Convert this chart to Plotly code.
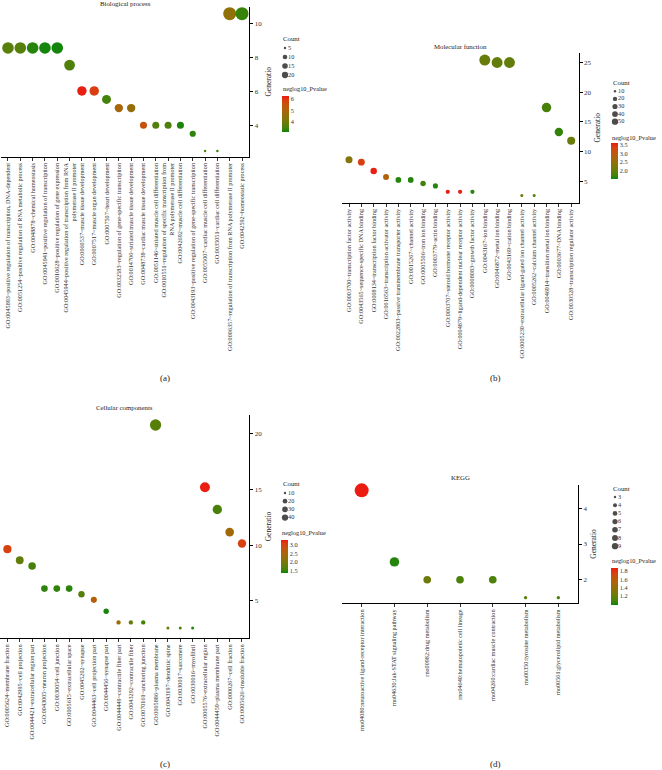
import plotly.graph_objects as go

# ---------------- data ----------------
bp_terms = [
    "GO:0045893~positive regulation of transcription, DNA-dependent",
    "GO:0051254~positive regulation of RNA metabolic process",
    "GO:0048878~chemical homeostasis",
    "GO:0045941~positive regulation of transcription",
    "GO:0010628~positive regulation of gene expression",
    "GO:0045944~positive regulation of transcription from RNA<br>polymerase II promoter",
    "GO:0060537~muscle tissue development",
    "GO:0007517~muscle organ development",
    "GO:0007507~heart development",
    "GO:0032583~regulation of gene-specific transcription",
    "GO:0014706~striated muscle tissue development",
    "GO:0048738~cardiac muscle tissue development",
    "GO:0051146~striated muscle cell differentiation",
    "GO:0010551~regulation of specific transcription from<br>RNA polymerase II promoter",
    "GO:0042692~muscle cell differentiation",
    "GO:0043193~positive regulation of gene-specific transcription",
    "GO:0055007~cardiac muscle cell differentiation",
    "GO:0035051~cardiac cell differentiation",
    "GO:0006357~regulation of transcription from RNA polymerase II promoter",
    "GO:0042592~homeostatic process",
]
bp_ratio = [8.59, 8.59, 8.59, 8.59, 8.59, 7.58, 6.06, 6.06, 5.56, 5.05,
            5.05, 4.04, 4.04, 4.04, 4.04, 3.54, 2.53, 2.53, 10.61, 10.61]
bp_count = [17, 17, 17, 17, 17, 15, 12, 12, 11, 10, 10, 8, 8, 8, 8, 7, 5, 5, 21, 21]
bp_pval = [3.65, 3.65, 3.25, 3.15, 3.15, 3.55, 6.2, 5.9, 3.45, 4.9,
           4.6, 5.5, 3.6, 3.55, 3.2, 3.3, 3.6, 3.35, 4.5, 3.35]

mf_terms = [
    "GO:0003700~transcription factor activity",
    "GO:0043565~sequence-specific DNA binding",
    "GO:0008134~transcription factor binding",
    "GO:0016563~transcription activator activity",
    "GO:0022803~passive transmembrane transporter activity",
    "GO:0015267~channel activity",
    "GO:0005506~iron ion binding",
    "GO:0003779~actin binding",
    "GO:0003707~steroid hormone receptor activity",
    "GO:0004879~ligand-dependent nuclear receptor activity",
    "GO:0008083~growth factor activity",
    "GO:0043167~ion binding",
    "GO:0046872~metal ion binding",
    "GO:0043169~cation binding",
    "GO:0005230~extracellular ligand-gated ion channel activity",
    "GO:0005262~calcium channel activity",
    "GO:0046914~transition metal ion binding",
    "GO:0003677~DNA binding",
    "GO:0030528~transcription regulator activity",
]
mf_ratio = [8.6, 8.2, 6.7, 5.7, 5.2, 5.2, 4.6, 4.2, 3.2, 3.2,
            3.2, 25.4, 25.0, 25.0, 2.6, 2.6, 17.4, 13.3, 11.8]
mf_count = [16, 15, 13, 11, 10, 10, 9, 8, 6, 6, 6, 48, 47, 47, 5, 5, 33, 25, 22]
mf_pval = [2.3, 3.3, 3.55, 2.8, 1.6, 1.6, 1.7, 1.6, 3.58, 3.55,
           1.6, 2.0, 1.95, 1.95, 1.95, 1.85, 1.75, 1.65, 2.0]

cc_terms = [
    "GO:0005624~membrane fraction",
    "GO:0042995~cell projection",
    "GO:0044421~extracellular region part",
    "GO:0043005~neuron projection",
    "GO:0030054~cell junction",
    "GO:0005615~extracellular space",
    "GO:0045202~synapse",
    "GO:0044463~cell projection part",
    "GO:0044456~synapse part",
    "GO:0044449~contractile fiber part",
    "GO:0043292~contractile fiber",
    "GO:0070161~anchoring junction",
    "GO:0005886~plasma membrane",
    "GO:0043197~dendritic spine",
    "GO:0030017~sarcomere",
    "GO:0030016~myofibril",
    "GO:0005576~extracellular region",
    "GO:0044459~plasma membrane part",
    "GO:0000267~cell fraction",
    "GO:0005626~insoluble fraction",
]
cc_ratio = [9.64, 8.64, 8.13, 6.09, 6.09, 6.09, 5.58, 5.08, 4.06, 3.05,
            3.05, 3.05, 20.8, 2.54, 2.54, 2.54, 15.2, 13.2, 11.17, 10.15]
cc_count = [19, 17, 16, 12, 12, 12, 11, 10, 8, 6, 6, 6, 41, 5, 5, 5, 30, 26, 22, 20]
cc_pval = [3.05, 1.8, 1.6, 1.5, 1.5, 1.48, 1.7, 2.65, 1.42, 2.4,
           1.85, 1.55, 1.7, 1.85, 1.6, 1.45, 3.3, 1.6, 2.4, 3.05]

kegg_terms = [
    "rno04080:neuroactive ligand-receptor interaction",
    "rno04630:Jak-STAT signaling pathway",
    "rno00982:drug metabolism",
    "rno04640:hematopoietic cell lineage",
    "rno04260:cardiac muscle contraction",
    "rno00350:tyrosine metabolism",
    "rno00561:glycerolipid metabolism",
]
kegg_ratio = [4.5, 2.5, 2.0, 2.0, 2.0, 1.5, 1.5]
kegg_count = [9, 5, 4, 4, 4, 3, 3]
kegg_pval = [1.86, 1.02, 1.22, 1.1, 1.1, 1.15, 1.08]

bp_count_breaks = [5, 10, 15, 20]
mf_count_breaks = [10, 20, 30, 40, 50]
cc_count_breaks = [10, 20, 30, 40]
kegg_count_breaks = [3, 4, 5, 6, 7, 8, 9]

bp_cbar_ticks = [4, 5, 6]
mf_cbar_ticks = [2.0, 2.5, 3.0, 3.5]
cc_cbar_ticks = [1.5, 2.0, 2.5, 3.0]
kegg_cbar_ticks = [1.2, 1.4, 1.6, 1.8]

# ---------------- styling helpers ----------------
W, H = 662, 770
FONT = "Liberation Serif"


def px(x):
    return x / W


def py(y):
    return 1 - y / H


def _lin(c):
    c = c / 255
    return c / 12.92 if c <= 0.04045 else ((c + 0.055) / 1.055) ** 2.4


def _srgb(c):
    v = 12.92 * c if c <= 0.0031308 else 1.055 * max(c, 0) ** (1 / 2.4) - 0.055
    return max(0, min(255, round(v * 255)))


def hex_to_lab(h):
    r, g, b = (_lin(int(h[i:i + 2], 16)) for i in (1, 3, 5))
    X = (0.4124 * r + 0.3576 * g + 0.1805 * b) / 0.95047
    Y = 0.2126 * r + 0.7152 * g + 0.0722 * b
    Z = (0.0193 * r + 0.1192 * g + 0.9505 * b) / 1.08883
    d = 6 / 29
    f = lambda t: t ** (1 / 3) if t > d ** 3 else t / (3 * d * d) + 4 / 29
    return 116 * f(Y) - 16, 500 * (f(X) - f(Y)), 200 * (f(Y) - f(Z))


def lab_to_hex(L, a, b):
    d = 6 / 29
    fy = (L + 16) / 116
    fx = fy + a / 500
    fz = fy - b / 200
    fi = lambda t: t ** 3 if t > d else 3 * d * d * (t - 4 / 29)
    X, Y, Z = fi(fx) * 0.95047, fi(fy), fi(fz) * 1.08883
    r = 3.2406 * X - 1.5372 * Y - 0.4986 * Z
    g = -0.9689 * X + 1.8758 * Y + 0.0415 * Z
    bb = 0.0557 * X - 0.2040 * Y + 1.0570 * Z
    return "#%02x%02x%02x" % (_srgb(r), _srgb(g), _srgb(bb))


LOW, HIGH = "#0b850b", "#ec1a12"
l1, l2 = hex_to_lab(LOW), hex_to_lab(HIGH)
CS = []
for i in range(11):
    t = i / 10
    CS.append([t, lab_to_hex(*[l1[k] + (l2[k] - l1[k]) * t for k in range(3)])])


def sizes(counts, smin, smax):
    lo, hi = min(counts), max(counts)
    return [smin + (smax - smin) * ((c - lo) / (hi - lo)) ** 0.5 for c in counts]


fig = go.Figure()
annotations = []
layout = dict(
    width=W, height=H, margin=dict(l=0, r=0, t=0, b=0),
    paper_bgcolor="white", plot_bgcolor="white", showlegend=False,
    font=dict(family=FONT, color="#222"),
)

panels = [
    dict(terms=bp_terms, ratio=bp_ratio, count=bp_count, pval=bp_pval,
         breaks=bp_count_breaks, cticks=bp_cbar_ticks, ctickfmt="%g",
         xl=0.6, xr=249.4, yt=7, yb=156.5, yr=[2.2, 11.0], dtick=2,
         smin=2.5, smax=13, cmin=3.1, cmax=6.25,
         title="Biological process", title_y=3.5, cap="(a)", cap_xy=(165, 378),
         lg_x=285, lg_title_y=39, lg_first=48, lg_sp=9,
         cb_x=282, cb_title_y=88.5, cb_top=96, cb_len=36),
    dict(terms=mf_terms, ratio=mf_ratio, count=mf_count, pval=mf_pval,
         breaks=mf_count_breaks, cticks=mf_cbar_ticks, ctickfmt="%.1f",
         xl=341.6, xr=578.6, yt=53, yb=202.5, yr=[1.4, 26.6], dtick=5,
         smin=3, smax=11, cmin=1.5, cmax=3.58,
         title="Molecular function", title_y=47, cap="(b)", cap_xy=(495, 378),
         lg_x=615, lg_title_y=82, lg_first=91.3, lg_sp=7.6,
         cb_x=611, cb_title_y=137, cb_top=143.3, cb_len=36),
    dict(terms=cc_terms, ratio=cc_ratio, count=cc_count, pval=cc_pval,
         breaks=cc_count_breaks, cticks=cc_cbar_ticks, ctickfmt="%.1f",
         xl=0, xr=249.4, yt=415, yb=638, yr=[1.65, 21.7], dtick=5,
         smin=3, smax=11.3, cmin=1.37, cmax=3.31,
         title="Cellular components", title_y=408, cap="(c)", cap_xy=(165, 764),
         lg_x=285, lg_title_y=483, lg_first=493, lg_sp=8.2,
         cb_x=281, cb_title_y=532, cb_top=540, cb_len=33),
    dict(terms=kegg_terms, ratio=kegg_ratio, count=kegg_count, pval=kegg_pval,
         breaks=kegg_count_breaks, cticks=kegg_cbar_ticks, ctickfmt="%.1f",
         xl=342, xr=578, yt=485, yb=603, yr=[1.35, 4.65], dtick=1,
         smin=3.3, smax=14, cmin=0.98, cmax=1.865,
         title="KEGG", title_y=477, cap="(d)", cap_xy=(495, 764),
         lg_x=615, lg_title_y=488, lg_first=497, lg_sp=8.2,
         cb_x=611, cb_title_y=560.7, cb_top=568.3, cb_len=37),
]

for i, p in enumerate(panels):
    k = i + 1
    sfx = "" if k == 1 else str(k)
    n = len(p["terms"])
    fig.add_trace(go.Scatter(
        x=p["terms"], y=p["ratio"], mode="markers", cliponaxis=False,
        xaxis="x" + sfx, yaxis="y" + sfx, hoverinfo="skip",
        marker=dict(
            size=sizes(p["count"], p["smin"], p["smax"]), color=p["pval"],
            colorscale=CS, cmin=p["cmin"], cmax=p["cmax"], opacity=1,
            line=dict(width=0),
            colorbar=dict(
                x=px(p["cb_x"]), xanchor="left", xpad=0,
                y=py(p["cb_top"]), yanchor="top", ypad=0,
                len=p["cb_len"], lenmode="pixels", thickness=7,
                thicknessmode="pixels", outlinewidth=0, ticks="",
                tickvals=p["cticks"],
                ticktext=[p["ctickfmt"] % v for v in p["cticks"]],
                tickfont=dict(size=6.3, family=FONT, color="#333"),
            ),
        ),
    ))
    layout["xaxis" + sfx] = dict(
        domain=[px(p["xl"]), px(p["xr"])], type="category",
        range=[-0.6, n - 0.4], anchor="y" + sfx, automargin=False,
        showline=True, linecolor="black", linewidth=1, mirror=False,
        ticks="outside", ticklen=3, tickcolor="black", tickwidth=0.8,
        tickangle=-90, tickmode="array", tickvals=p["terms"], ticktext=p["terms"],
        tickfont=dict(size=6.2, family=FONT, color="#333"),
        showgrid=False, zeroline=False, fixedrange=True,
    )
    layout["yaxis" + sfx] = dict(
        domain=[py(p["yb"]), py(p["yt"])], range=p["yr"], side="right",
        anchor="x" + sfx, automargin=False, showline=True, linecolor="black",
        linewidth=1, ticks="outside", ticklen=3, tickcolor="black",
        dtick=p["dtick"], tickfont=dict(size=7, family=FONT, color="#333"),
        title=dict(text="Generatio", font=dict(size=7.5, family=FONT, color="#222"),
                   standoff=4),
        showgrid=False, zeroline=False, fixedrange=True,
    )

    # size legend ("Count") drawn on its own small axis
    lk = str(k + 4)
    nb = len(p["breaks"])
    layout["xaxis" + lk] = dict(
        domain=[px(p["lg_x"] - 4), px(p["lg_x"] + 46)], range=[-0.08, 0.92],
        visible=False, anchor="y" + lk, fixedrange=True,
    )
    layout["yaxis" + lk] = dict(
        domain=[py(p["lg_first"] + p["lg_sp"] * (nb - 0.5)),
                py(p["lg_first"] - p["lg_sp"] / 2)],
        range=[nb - 0.5, -0.5], visible=False, anchor="x" + lk, fixedrange=True,
    )
    fig.add_trace(go.Scatter(
        x=[0] * nb, y=list(range(nb)), mode="markers", cliponaxis=False,
        xaxis="x" + lk, yaxis="y" + lk, hoverinfo="skip",
        marker=dict(size=sizes(p["breaks"], 2.4, 6.3), color="black",
                    line=dict(width=0)),
    ))
    fig.add_trace(go.Scatter(
        x=[0.06] * nb, y=list(range(nb)), mode="text", cliponaxis=False,
        xaxis="x" + lk, yaxis="y" + lk, hoverinfo="skip",
        text=[str(b) for b in p["breaks"]], textposition="middle right",
        textfont=dict(size=6.3, family=FONT, color="#333"),
    ))

    annotations.append(dict(
        text="Count", x=px(p["lg_x"] - 4), y=py(p["lg_title_y"]), xref="paper",
        yref="paper", xanchor="left", yanchor="middle", showarrow=False,
        font=dict(size=6.8, family=FONT, color="#222")))
    annotations.append(dict(
        text="neglog10_Pvalue", x=px(p["cb_x"] - 1), y=py(p["cb_title_y"]),
        xref="paper", yref="paper", xanchor="left", yanchor="middle",
        showarrow=False, font=dict(size=6.3, family=FONT, color="#222")))
    annotations.append(dict(
        text=p["title"], x=px((p["xl"] + p["xr"]) / 2), y=py(p["title_y"]),
        xref="paper", yref="paper", xanchor="center", yanchor="middle",
        showarrow=False, font=dict(size=6.8, family=FONT, color="#222")))
    annotations.append(dict(
        text=p["cap"], x=px(p["cap_xy"][0]), y=py(p["cap_xy"][1]),
        xref="paper", yref="paper", xanchor="center", yanchor="middle",
        showarrow=False, font=dict(size=9, family=FONT, color="#222")))

layout["annotations"] = annotations
fig.update_layout(**layout)
fig.write_html(
    "out.html",
    config={"displayModeBar": False, "staticPlot": True},
    post_script="document.body.style.margin='0';document.body.style.overflow='hidden';",
)
